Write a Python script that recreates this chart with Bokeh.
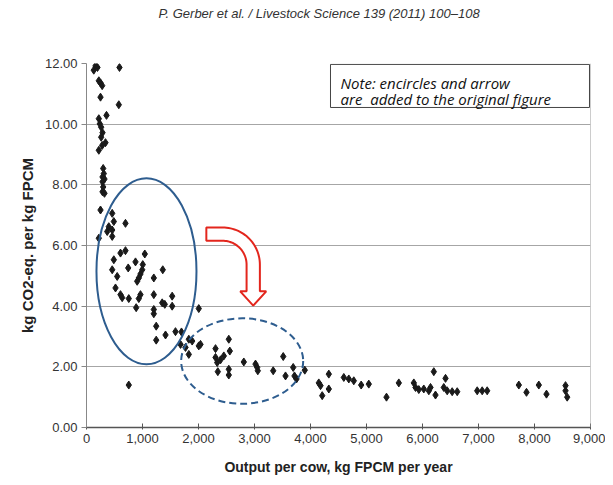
import numpy as np
from bokeh.plotting import figure
from bokeh.models import (Range1d, FixedTicker, NumeralTickFormatter, Span, Title)
from bokeh.core.properties import value
from bokeh.embed import file_html
from bokeh.resources import INLINE

# ---- data: output per cow (kg FPCM / yr) and emission intensity (kg CO2-eq / kg FPCM)
output_per_cow = [
    130, 161, 196, 589, 220, 250, 280, 250, 577, 357, 220, 238, 262, 286, 262, 339, 280, 220,
    298, 309, 286, 321, 286, 298, 286, 321, 250, 459, 488, 398, 459, 370, 459, 696, 220,
    488, 607, 696, 459, 548, 745, 875, 1041, 1005, 995, 964, 934, 905, 518, 607, 637, 755,
    964, 934, 887, 1202, 1362, 1202, 1352, 1398, 1202, 1202, 1530, 1530, 2005, 1245, 1411,
    1245, 1589, 1696, 1827, 1887, 1679, 1768, 2036, 2005, 1827, 2304, 2541, 2559, 2304, 2393,
    2452, 2334, 2809, 3018, 3048, 3059, 2345, 2541, 2541, 3334, 3513, 3554, 3691, 3714, 3750,
    3898, 4148, 4179, 4209, 4327, 4327, 4595, 4684, 4773, 4905, 5041, 5357, 5577, 5845, 5875,
    5934, 6023, 6113, 6143, 6202, 6232, 6411, 6380, 6441, 6530, 6620, 6977, 7066, 7155, 7720,
    7857, 8077, 8214, 8554, 8554, 8584, 755,
]
co2_intensity = [
    11.78, 11.92, 11.87, 11.87, 11.43, 11.36, 11.27, 10.89, 10.64, 10.29, 10.18, 10.01, 9.90,
    9.72, 9.57, 9.39, 9.30, 9.14, 8.54, 8.37, 8.26, 8.19, 8.10, 7.93, 7.77, 7.72, 7.17, 7.06,
    6.79, 6.62, 6.51, 6.46, 6.30, 6.73, 6.24, 5.53, 5.75, 5.83, 5.20, 4.98, 5.26, 5.46, 5.72,
    5.37, 5.20, 5.06, 4.93, 4.82, 4.60, 4.38, 4.28, 4.25, 4.38, 4.25, 3.95, 4.93, 5.20, 4.38,
    4.11, 4.06, 3.89, 3.75, 4.33, 4.00, 3.92, 3.34, 3.05, 2.88, 3.16, 3.15, 2.91, 2.85, 2.74,
    2.64, 2.74, 2.69, 2.41, 2.60, 2.91, 2.52, 2.31, 2.23, 2.36, 2.14, 2.16, 2.09, 1.98, 1.87,
    1.84, 1.92, 1.73, 1.87, 2.34, 1.70, 1.98, 1.70, 1.60, 1.89, 1.47, 1.38, 1.05, 1.76, 1.27,
    1.65, 1.60, 1.54, 1.40, 1.43, 1.00, 1.47, 1.47, 1.32, 1.25, 1.27, 1.21, 1.32, 1.84, 1.07,
    1.62, 1.32, 1.21, 1.18, 1.18, 1.21, 1.21, 1.21, 1.40, 1.16, 1.40, 1.10, 1.38, 1.21, 1.00,
    1.40,
]
x_ticks = [0, 1000, 2000, 3000, 4000, 5000, 6000, 7000, 8000, 9000]
y_ticks = [0, 2, 4, 6, 8, 10, 12]

header_text = "P. Gerber et al. / Livestock Science 139 (2011) 100\u2013108"
note_lines = ["Note: encircles and arrow", "are\u00a0 added to the original figure"]
x_label = "Output per cow, kg FPCM per year"
y_label = "kg CO2-eq. per kg FPCM"

# annotation geometry (data units)
solid_ellipse = dict(x=1071, y=5.15, w=1786, h=6.13)
dashed_ellipse = dict(x=2780, y=2.19, w=2179, h=2.82)
note_box = dict(left=4357, right=8982, bottom=10.55, top=11.97)
note_text_pos = dict(x=4536, y=[11.37, 10.83])

BL, BR, BT, BB = 86, 15, 63, 48
frame_w, frame_h = 504, 366
W, H = BL + frame_w + BR, BT + frame_h + BB

p = figure(width=W, height=H, output_backend="svg", toolbar_location=None,
           x_range=Range1d(0, 9000), y_range=Range1d(0, 12),
           min_border_left=BL, min_border_right=BR, min_border_top=BT, min_border_bottom=BB)
p.outline_line_color = None
p.background_fill_color = "white"

# spacer panel next to the frame, then the header above it
p.add_layout(Title(text=" ", text_font_size="36px", standoff=0), "above")
p.add_layout(Title(text=header_text, align="left", offset=72, standoff=0,
                   text_font="Liberation Sans", text_font_style="italic",
                   text_font_size="13px", text_color="#333333"), "above")

# axes
p.xaxis.ticker = FixedTicker(ticks=x_ticks)
p.yaxis.ticker = FixedTicker(ticks=y_ticks)
p.xaxis.formatter = NumeralTickFormatter(format="0,0")
p.yaxis.formatter = NumeralTickFormatter(format="0.00")
for ax in (p.xaxis, p.yaxis):
    ax.major_label_text_font = "Liberation Sans"
    ax.major_label_text_font_size = "13px"
    ax.major_label_text_color = "#333333"
    ax.minor_tick_line_color = None
    ax.axis_label_text_font = "Liberation Sans"
    ax.axis_label_text_font_style = "bold"
    ax.axis_label_text_color = "#222222"
p.xaxis.axis_label_text_font_size = "14px"
p.yaxis.axis_label_text_font_size = "15px"
p.xaxis.axis_label = x_label
p.yaxis.axis_label = y_label
p.xaxis.axis_line_color = "#555555"
p.xaxis.axis_line_width = 1.5
p.xaxis.major_tick_line_color = "#555555"
p.xaxis.major_tick_in = 4
p.xaxis.major_tick_out = 2
p.xaxis.major_label_standoff = 4
p.xaxis.axis_label_standoff = 13
p.yaxis.axis_line_color = "#888888"
p.yaxis.major_tick_line_color = "#888888"
p.yaxis.major_tick_in = 0
p.yaxis.major_tick_out = 5
p.yaxis.major_label_standoff = 4
p.yaxis.axis_label_standoff = 6

p.xgrid.grid_line_color = None
p.ygrid.grid_line_color = "#a6a6a6"
p.ygrid.grid_line_width = 1

# right border
p.add_layout(Span(location=9000, dimension="height", line_color="#999999", line_width=1))

# data points
p.scatter(output_per_cow, co2_intensity, marker="diamond", size=8,
          fill_color="#1a1a1a", line_color="#1a1a1a")

# ellipses
p.ellipse(x=[solid_ellipse["x"]], y=[solid_ellipse["y"]], width=[solid_ellipse["w"]],
          height=[solid_ellipse["h"]], fill_color=None, line_color="#2e5d8f", line_width=2)
p.ellipse(x=[dashed_ellipse["x"]], y=[dashed_ellipse["y"]], width=[dashed_ellipse["w"]],
          height=[dashed_ellipse["h"]], fill_color=None, line_color="#2e5d8f", line_width=2,
          line_dash="7 4")

# curved arrow (built in screen-proportional units so the arc stays round)
ux = 9000 / frame_w   # data per pixel, x
uy = 12 / frame_h     # data per pixel, y
tail_x, arc_cx, arc_cy = 2140, 2430, 5.37
r_out, r_in = 37.3, 24.0
shaft_bottom, tip_y, wing = 4.49, 4.02, 13.0
t_out = np.linspace(np.pi / 2, 0, 30)
t_in = t_out[::-1]
shaft_mid = arc_cx + (r_out + r_in) / 2 * ux
ax_pts = ([tail_x] + list(arc_cx + r_out * ux * np.cos(t_out)) +
          [arc_cx + r_out * ux, shaft_mid + wing * ux, shaft_mid, shaft_mid - wing * ux,
           arc_cx + r_in * ux] + list(arc_cx + r_in * ux * np.cos(t_in)) + [tail_x])
ay_pts = ([arc_cy + r_out * uy] + list(arc_cy + r_out * uy * np.sin(t_out)) +
          [shaft_bottom, shaft_bottom, tip_y, shaft_bottom, shaft_bottom] +
          list(arc_cy + r_in * uy * np.sin(t_in)) + [arc_cy + r_in * uy])
p.patch(ax_pts, ay_pts, fill_color="white", line_color="#e3261d", line_width=2)

# note box
p.quad(left=[note_box["left"]], right=[note_box["right"]], bottom=[note_box["bottom"]],
       top=[note_box["top"]], fill_color="white", line_color="#444444", line_width=1)
p.text(x=[note_text_pos["x"]] * 2, y=note_text_pos["y"], text=note_lines,
       text_font=value("Open Sans"), text_font_style="italic", text_font_size="15px",
       text_color="#111111", text_baseline="alphabetic")

open("out.html", "w").write(file_html(p, INLINE))
